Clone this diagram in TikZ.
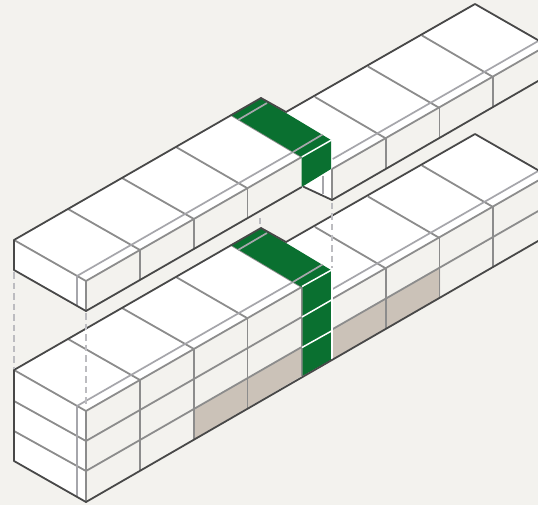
\documentclass[tikz,border=0pt]{standalone}
\usepackage{xcolor}
\usetikzlibrary{positioning}
\definecolor{paper}{HTML}{F3F2EE}
\definecolor{slabgreen}{HTML}{0A7030}
\definecolor{slabtan}{HTML}{CBC2B8}
\definecolor{edgedark}{HTML}{484848}
\definecolor{edgegrey}{HTML}{8C8C8C}
\definecolor{edgelight}{HTML}{A6A6AB}
\tikzset{
    % Line styles
    outline/.style={draw=edgedark, line width=1.8pt, line join=round},
    grid line/.style={draw=edgegrey, line width=1.8pt},
    soft line/.style={draw=edgelight, line width=1.7pt},
    guide/.style={draw=edgelight!75, line width=1.5pt, dash pattern=on 6.5pt off 4pt},
    cut line/.style={draw=white, line width=1.5pt},
}
% Top faces, shared by both blocks
\newcommand{\slabtop}{
    \fill[white] (14,240) -- (261,98) -- (331,140) -- (301.7,157) -- (86,281) -- cycle;
    \fill[white] (286,112) -- (475,4) -- (550,47) -- (550,44) -- (332,169) -- (315,150) -- cycle;
    % Cross lines
    \draw[grid line] (14,240) -- (86,281);
    \draw[grid line] (68,209) -- (140,250);
    \draw[grid line] (122,178) -- (194,219);
    \draw[grid line] (176,147) -- (247,188);
    \draw[grid line] (231,115) -- (301.7,157);
    \draw[grid line] (315,97) -- (386,138.5);
    \draw[grid line] (368,66.5) -- (439.5,108);
    \draw[grid line] (422,35.5) -- (493,77);
    % Long lines
    \draw[soft line] (77,276) -- (293,152);
    \draw[soft line] (332.7,159) -- (540,40);
    \draw[grid line] (86,281) -- (301.7,157);
    \draw[grid line] (332,169) -- (540,49.5);
    % Green top
    \fill[slabgreen] (231,115) -- (261,98) -- (331,140) -- (301.7,157) -- cycle;
    \draw[soft line] (238,120) -- (267,103);
    \draw[soft line] (293,152) -- (322.5,134.5);
}
\begin{document}
\begin{tikzpicture}[x=1pt, y=-1pt]
    \useasboundingbox (0,0) rectangle (538,505);
    \clip (0,0) rectangle (538,505);
    \fill[paper] (0,0) rectangle (538,505);

    % Upper block faces
    \fill[white] (14,240) -- (86,281) -- (86,311) -- (14,270) -- cycle;
    \fill[white] (301.7,187) -- (331,169) -- (332,200) -- cycle;
    \slabtop
    \fill[slabgreen] (301.7,157) -- (331,140) -- (331,169) -- (301.7,187) -- cycle;
    \draw[cut line] (301.7,157) -- (331.5,140);
    \draw[soft line] (77,276) -- (77,306);
    \draw[grid line] (86,281) -- (86,311);
    \draw[grid line] (140,250) -- (140,280);
    \draw[grid line] (194,219) -- (194,249);
    \draw[grid line] (247.5,188) -- (247.5,218);
    \draw[soft line] (323,176) -- (323,194);
    \draw[grid line] (332,169) -- (332,200);
    \draw[grid line] (386,138.5) -- (386,169);
    \draw[grid line] (439.5,108) -- (439.5,138);
    \draw[grid line] (493,77) -- (493,107);

    % Upper block outline
    \draw[outline] (475,4) -- (286,112) -- (261,98) -- (14,240) -- (14,270) -- (86,311) -- (301.7,187);
    \draw[outline] (303,186.5) -- (332,200) -- (545,77);
    \draw[outline] (475,4) -- (550,47);

    % Lower block faces
    \fill[white] (14,370) -- (86,410) -- (86,502) -- (14,461) -- cycle;
    \begin{scope}[yshift=-130pt]
        \slabtop
    \end{scope}
    \fill[slabtan] (194,409) -- (301.7,347) -- (301.7,376) -- (194,439) -- cycle;
    \fill[slabtan] (332,329.5) -- (440,268) -- (440,298) -- (332,359) -- cycle;

    % Lower block layers
    \draw[grid line] (14,401) -- (86,441);
    \draw[grid line] (14,431) -- (86,471);
    \draw[grid line] (86,441) -- (301.7,317);
    \draw[grid line] (86,471) -- (301.7,347);
    \draw[grid line] (332,329.5) -- (540,210);

    % Lower block uprights
    \draw[soft line] (77,406) -- (77,497);
    \draw[grid line] (86,411) -- (86,502);
    \draw[grid line] (140,380) -- (140,471);
    \draw[grid line] (194,349) -- (194,440);
    \draw[grid line] (247.5,318) -- (247.5,409);
    \draw[grid line] (301.7,287) -- (301.7,376);
    \draw[grid line] (386,268) -- (386,328);
    \draw[grid line] (439.5,237) -- (439.5,298);
    \draw[grid line] (493,206) -- (493,267);

    % Green front, in three parts
    \fill[slabgreen] (302.5,287) -- (331,270) -- (331,360) -- (302.5,376) -- cycle;
    \draw[cut line] (302,286.5) -- (331.5,270);
    \draw[cut line] (302,317) -- (331.5,300);
    \draw[cut line] (302,347.5) -- (331.5,331);
    \draw[cut line] (332,270) -- (332,360);

    % Lower block outline
    \draw[outline] (475,134) -- (286,242) -- (261,228) -- (14,370) -- (14,461) -- (86,502) -- (545,237);
    \draw[outline] (475,134) -- (550,177);

    % Dashed guides
    \draw[guide] (14,272) -- (14,369);
    \draw[guide] (86,313) -- (86,406);
    \draw[guide] (260,218) -- (260,227);
    \draw[guide] (332,203) -- (332,268);
\end{tikzpicture}
\end{document}
